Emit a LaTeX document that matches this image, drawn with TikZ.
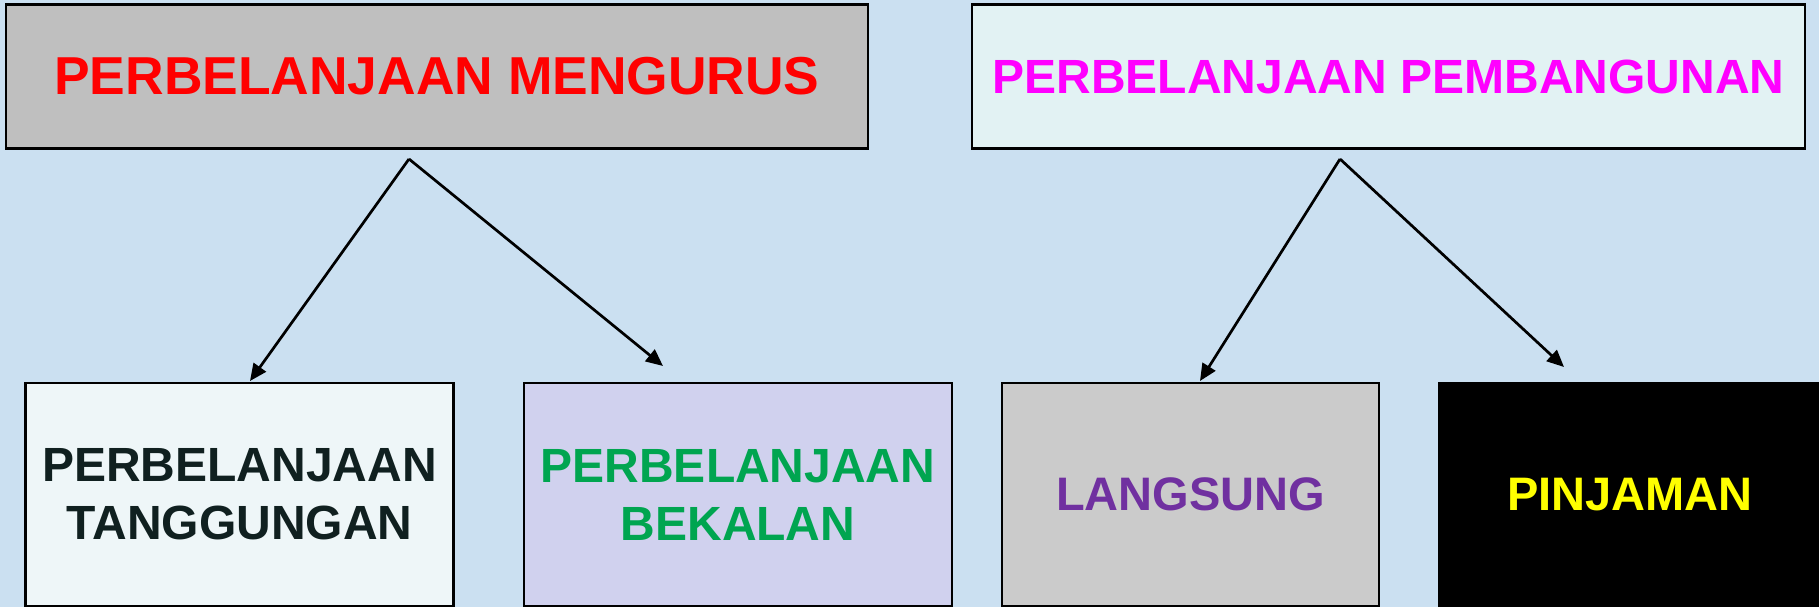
\documentclass[tikz,border=0pt]{standalone}
\usepackage{fontspec}
\setmainfont{Liberation Sans}
\usetikzlibrary{arrows.meta}
\definecolor{bgblue}{HTML}{CBE0F1}
\definecolor{fillmgr}{HTML}{BFBFBF}
\definecolor{fillpmb}{HTML}{E2F2F3}
\definecolor{filltgg}{HTML}{EEF6F8}
\definecolor{fillbkl}{HTML}{D0D1EE}
\definecolor{filllgs}{HTML}{CBCBCB}
\definecolor{txtmgr}{HTML}{FF0000}
\definecolor{txtpmb}{HTML}{FF00FF}
\definecolor{txttgg}{HTML}{102020}
\definecolor{txtbkl}{HTML}{00A550}
\definecolor{txtlgs}{HTML}{7030A0}
\definecolor{txtpjm}{HTML}{FFFF00}
\begin{document}
\begin{tikzpicture}[x=1pt,y=-1pt,
  box/.style={draw=black, line width=2.5pt, inner sep=0pt, align=center},
  bigtext/.style={font=\bfseries\fontsize{#1}{#1}\selectfont},
  smalltext/.style={font=\bfseries\fontsize{48}{58}\selectfont},
  conn/.style={line width=2.7pt, -{Triangle[length=17pt,width=15pt]}}]
\fill[bgblue] (0,0) rectangle (1819,607);
\useasboundingbox (0,0) rectangle (1819,607);
% top boxes
\node[box, fill=fillmgr, text=txtmgr, minimum width=862pt, minimum height=144pt, bigtext=53.4] (mgr) at (437,76.5) {PERBELANJAAN MENGURUS};
\node[box, fill=fillpmb, text=txtpmb, minimum width=833pt, minimum height=144pt, bigtext=48] (pmb) at (1388.5,76.5) {PERBELANJAAN PEMBANGUNAN};
% bottom boxes
\node[box, fill=filltgg, text=txttgg, minimum width=428pt, minimum height=223pt, smalltext] (tgg) at (239.5,494.5) {PERBELANJAAN\\TANGGUNGAN};
\node[box, fill=fillbkl, text=txtbkl, minimum width=428pt, minimum height=223pt, smalltext] (bkl) at (738,494.5) {PERBELANJAAN\\BEKALAN};
\node[box, fill=filllgs, text=txtlgs, minimum width=377pt, minimum height=223pt, bigtext=47] (lgs) at (1190.5,494.5) {LANGSUNG};
\node[box, fill=black, text=txtpjm, minimum width=382pt, minimum height=223pt, bigtext=47] (pjm) at (1630,494.5) {PINJAMAN};
% connector points
\coordinate (amgr) at (409,159);
\coordinate (apmb) at (1340,159);
\coordinate (ttgg) at (250,381);
\coordinate (tbkl) at (663,366);
\coordinate (tlgs) at (1200,381);
\coordinate (tpjm) at (1564,367);
\draw[conn] (amgr) -- (ttgg);
\draw[conn] (amgr) -- (tbkl);
\draw[conn] (apmb) -- (tlgs);
\draw[conn] (apmb) -- (tpjm);
\end{tikzpicture}
\end{document}
